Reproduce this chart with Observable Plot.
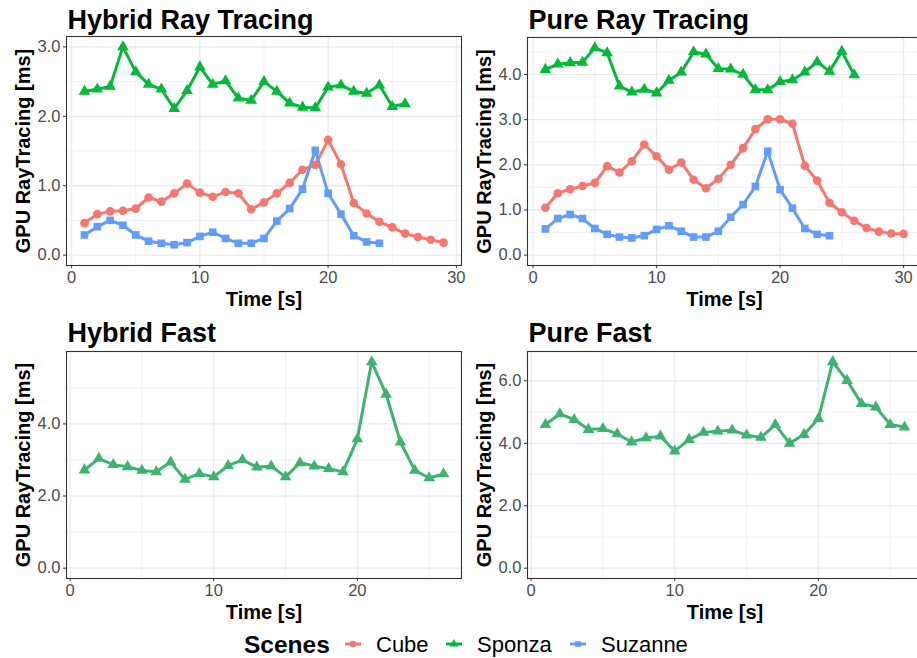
<!DOCTYPE html>
<html><head><meta charset="utf-8">
<script src="https://cdn.jsdelivr.net/npm/d3@7"></script>
<script src="https://cdn.jsdelivr.net/npm/@observablehq/plot@0.6"></script>
<style>
html,body{margin:0;padding:0;background:#fff;}
#root{position:relative;width:917px;height:658px;overflow:hidden;font-family:"Liberation Sans",Arial,sans-serif;background:#fff;}
#root svg{position:absolute;overflow:visible;}
</style></head>
<body><div id="root"></div>
<script>
// ---------------- data ----------------
const scenes = ["Cube", "Sponza", "Suzanne"];
const panelTitles = ["Hybrid Ray Tracing", "Pure Ray Tracing", "Hybrid Fast", "Pure Fast"];
const xLabel = "Time [s]";
const yLabel = "GPU RayTracing [ms]";
const legendTitle = "Scenes";

const hybridRTCube = [0.46,0.59,0.63,0.64,0.67,0.83,0.77,0.89,1.03,0.90,0.84,0.91,0.89,0.66,0.76,0.89,1.04,1.23,1.30,1.66,1.31,0.75,0.60,0.48,0.40,0.31,0.26,0.22,0.18];
const hybridRTSponza = [2.36,2.39,2.43,3.00,2.64,2.46,2.39,2.11,2.37,2.71,2.46,2.51,2.26,2.23,2.50,2.36,2.19,2.13,2.12,2.42,2.45,2.36,2.33,2.45,2.14,2.18];
const hybridRTSuzanne = [0.29,0.41,0.50,0.43,0.29,0.20,0.17,0.15,0.18,0.27,0.33,0.24,0.17,0.17,0.24,0.49,0.67,0.95,1.51,0.89,0.59,0.28,0.19,0.17];

const pureRTCube = [1.05,1.37,1.46,1.53,1.60,1.97,1.83,2.08,2.45,2.19,1.89,2.05,1.67,1.48,1.69,2.00,2.37,2.79,3.01,3.01,2.91,1.98,1.65,1.16,0.95,0.76,0.60,0.52,0.48,0.47];
const pureRTSponza = [4.11,4.23,4.26,4.27,4.59,4.48,3.74,3.61,3.67,3.59,3.87,4.05,4.50,4.45,4.13,4.12,4.00,3.66,3.66,3.84,3.88,4.05,4.28,4.07,4.51,3.99];
const pureRTSuzanne = [0.58,0.81,0.90,0.81,0.59,0.46,0.40,0.38,0.43,0.57,0.65,0.53,0.40,0.40,0.53,0.84,1.12,1.52,2.30,1.45,1.04,0.59,0.46,0.43];

const hybridFastSponza = [2.72,3.04,2.87,2.81,2.71,2.67,2.94,2.46,2.62,2.53,2.84,3.00,2.80,2.83,2.53,2.92,2.83,2.76,2.67,3.58,5.72,4.82,3.49,2.71,2.50,2.61];
const pureFastSponza = [4.60,4.94,4.76,4.44,4.47,4.30,4.04,4.17,4.23,3.75,4.12,4.35,4.39,4.42,4.26,4.19,4.60,4.00,4.28,4.79,6.61,6.01,5.27,5.16,4.60,4.52];

const xTicksTop = [0, 10, 20, 30];
const xTicksBottom = [0, 10, 20];
const xMinor = [5, 15, 25];
const yTicksHybridRT = [0, 1, 2, 3];
const yMinorHybridRT = [0.5, 1.5, 2.5];
const yTicksPureRT = [0, 1, 2, 3, 4];
const yMinorPureRT = [0.5, 1.5, 2.5, 3.5, 4.5];
const yTicksHybridFast = [0, 2, 4];
const yMinorHybridFast = [1, 3, 5];
const yTicksPureFast = [0, 2, 4, 6];
const yMinorPureFast = [1, 3, 5];

// ---------------- style ----------------
const colorsTop = ["#F8766D", "#00BA38", "#619CFF"];
const colorsBottom = ["#F8766D", "#3CB371", "#619CFF"];
const symbols = ["circle", "triangle", "square"];

function table(seriesMap) {
  const rows = [];
  for (const [scene, vals] of Object.entries(seriesMap)) {
    vals.forEach((v, i) => rows.push({scene, t: i + 1, v}));
  }
  return rows;
}

const panels = [
  {title: panelTitles[0], data: table({Cube: hybridRTCube, Sponza: hybridRTSponza, Suzanne: hybridRTSuzanne}),
   left: 0, top: 0, width: 465, height: 315, mt: 36, ml: 66, mr: 4, mb: 50, titleDy: -8,
   xDomain: [-0.4, 30.4], yDomain: [-0.15, 3.15], xTicks: xTicksTop, yTicks: yTicksHybridRT, yMinor: yMinorHybridRT, colors: colorsTop},
  {title: panelTitles[1], data: table({Cube: pureRTCube, Sponza: pureRTSponza, Suzanne: pureRTSuzanne}),
   left: 460, top: 0, width: 461, height: 315, mt: 37, ml: 67, mr: 0, mb: 50, titleDy: -9,
   xDomain: [-0.45, 31.45], yDomain: [-0.23, 4.82], xTicks: xTicksTop, yTicks: yTicksPureRT, yMinor: yMinorPureRT, colors: colorsTop},
  {title: panelTitles[2], data: table({Sponza: hybridFastSponza}),
   left: 0, top: 310, width: 465, height: 310, mt: 41, ml: 66, mr: 4, mb: 42, titleDy: -10,
   xDomain: [-0.25, 27.25], yDomain: [-0.286, 6.006], xTicks: xTicksBottom, yTicks: yTicksHybridFast, yMinor: yMinorHybridFast, colors: colorsBottom},
  {title: panelTitles[3], data: table({Sponza: pureFastSponza}),
   left: 460, top: 310, width: 462, height: 310, mt: 41, ml: 67, mr: 0, mb: 42, titleDy: -10,
   xDomain: [-0.25, 27.25], yDomain: [-0.33, 6.94], xTicks: xTicksBottom, yTicks: yTicksPureFast, yMinor: yMinorPureFast, colors: colorsBottom}
];

const root = document.getElementById("root");
const fmt = d3.format(".1f");

for (const p of panels) {
  const chart = Plot.plot({
    width: p.width, height: p.height,
    marginTop: p.mt, marginLeft: p.ml, marginRight: p.mr, marginBottom: p.mb,
    style: {fontFamily: '"Liberation Sans", Arial, sans-serif', fontSize: "16.5px", background: "transparent", overflow: "visible"},
    x: {domain: p.xDomain},
    y: {domain: p.yDomain},
    color: {domain: scenes, range: p.colors},
    symbol: {domain: scenes, range: symbols},
    marks: [
      Plot.ruleX(xMinor, {stroke: "#EBEBEB", strokeWidth: 0.6}),
      Plot.ruleY(p.yMinor, {stroke: "#EBEBEB", strokeWidth: 0.6}),
      Plot.ruleX(p.xTicks, {stroke: "#EBEBEB", strokeWidth: 1.2}),
      Plot.ruleY(p.yTicks, {stroke: "#EBEBEB", strokeWidth: 1.2}),
      Plot.line(p.data, {x: "t", y: "v", z: "scene", stroke: "scene", strokeWidth: 3}),
      Plot.dot(p.data, {x: "t", y: "v", symbol: "scene", fill: "scene", r: 4.3}),
      Plot.frame({stroke: "#333333", strokeWidth: 1.1}),
      Plot.axisX({ticks: p.xTicks, tickSize: 3, tickPadding: 3, tickFormat: d => String(d), label: null, stroke: "#333333", fill: "#4D4D4D"}),
      Plot.axisY({ticks: p.yTicks, tickSize: 3, tickPadding: 3, tickFormat: fmt, label: null, stroke: "#333333", fill: "#4D4D4D"}),
      Plot.text([p.title], {text: d => d, frameAnchor: "top-left", textAnchor: "start", lineAnchor: "bottom", dx: 1, dy: p.titleDy, fontSize: 27, fontWeight: "bold", fill: "black"}),
      Plot.text([xLabel], {text: d => d, frameAnchor: "bottom", textAnchor: "middle", lineAnchor: "bottom", dy: 40, fontSize: 20, fontWeight: "bold", fill: "black"}),
      Plot.text([yLabel], {text: d => d, frameAnchor: "left", rotate: -90, textAnchor: "middle", lineAnchor: "middle", dx: -43, fontSize: 20, fontWeight: "bold", fill: "black"})
    ]
  });
  chart.style.left = p.left + "px";
  chart.style.top = p.top + "px";
  root.appendChild(chart);
}

// ---------------- legend ----------------
const legendKeys = [
  {x: 345, labelX: 376},
  {x: 446, labelX: 477},
  {x: 570, labelX: 601}
];
const lg = d3.create("svg").attr("width", 917).attr("height", 40)
  .style("left", "0px").style("top", "620px")
  .style("font-family", '"Liberation Sans", Arial, sans-serif');
lg.append("text").attr("x", 244).attr("y", 33).attr("font-size", 24.5).attr("font-weight", "bold").attr("fill", "black").text(legendTitle);
scenes.forEach((s, i) => {
  const k = legendKeys[i];
  const cy = 24;
  lg.append("line").attr("x1", k.x).attr("x2", k.x + 16).attr("y1", cy).attr("y2", cy)
    .attr("stroke", colorsTop[i]).attr("stroke-width", 3);
  const sym = [d3.symbolCircle, d3.symbolTriangle, d3.symbolSquare][i];
  lg.append("path").attr("d", d3.symbol(sym, Math.PI * 3.2 * 3.2)())
    .attr("transform", `translate(${k.x + 8},${cy})`).attr("fill", colorsTop[i]);
  lg.append("text").attr("x", k.labelX).attr("y", 32).attr("font-size", 22).attr("fill", "black").text(s);
});
root.appendChild(lg.node());
</script>
</body></html>
